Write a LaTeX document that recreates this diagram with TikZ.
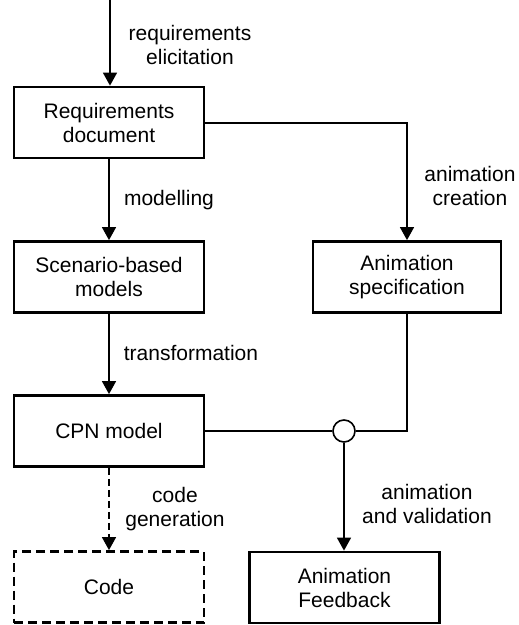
\documentclass[tikz,border=0pt]{standalone}
\usepackage{fontspec}
\setmainfont{Liberation Sans}
\usetikzlibrary{arrows.meta}
\begin{document}
\begin{tikzpicture}[x=1pt,y=-1pt,
  font=\fontsize{21pt}{24pt}\selectfont,
  stepbox/.style={draw, line width=2.8pt, minimum width=190pt, minimum height=71pt, align=center, inner sep=0pt},
  conn/.style={line width=1.6pt},
  arr/.style={conn, -{Triangle[width=14pt,length=13pt]}},
  lbl/.style={align=center, inner sep=0pt}]
\useasboundingbox (0,0) rectangle (519,625);
\coordinate (start) at (110,0);
\node[stepbox] (req) at (109,122.5) {Requirements\\document};
\node[stepbox] (scen) at (109,277) {Scenario-based\\models};
\node[stepbox] (cpn) at (109,431) {CPN model};
\node[stepbox, dash pattern=on 9pt off 5pt] (code) at (109,587) {Code};
\node[stepbox, minimum width=188pt] (anim) at (407,277) {Animation\\specification};
\node[stepbox] (fb) at (344.5,587.5) {Animation\\Feedback};
\node[draw, circle, conn, minimum size=22pt, inner sep=0pt, fill=white] (junc) at (344,431) {};
\coordinate (corner1) at (407,123);
\coordinate (corner2) at (407,431);

\draw[arr] (start) -- (req.north -| start);
\draw[arr] (req) -- (scen);
\draw[arr] (scen) -- (cpn);
\draw[arr, dash pattern=on 7pt off 4pt] (cpn) -- (code);
\draw[arr] (req.east |- corner1) -- (corner1) -- (anim.north);
\draw[conn] (cpn.east) -- (junc.west);
\draw[conn] (anim.south) -- (corner2) -- (junc.east);
\draw[arr] (junc.south) -- (fb.north -| junc);

\node[lbl] (l1) at (190,45) {requirements\\elicitation};
\node[lbl] (l2) at (169,200) {modelling};
\node[lbl] (l3) at (470,186) {animation\\creation};
\node[lbl] (l4) at (191,353) {transformation};
\node[lbl] (l5) at (175,509) {code\\generation};
\node[lbl] (l6) at (427,504) {animation\\and validation};
\end{tikzpicture}
\end{document}
